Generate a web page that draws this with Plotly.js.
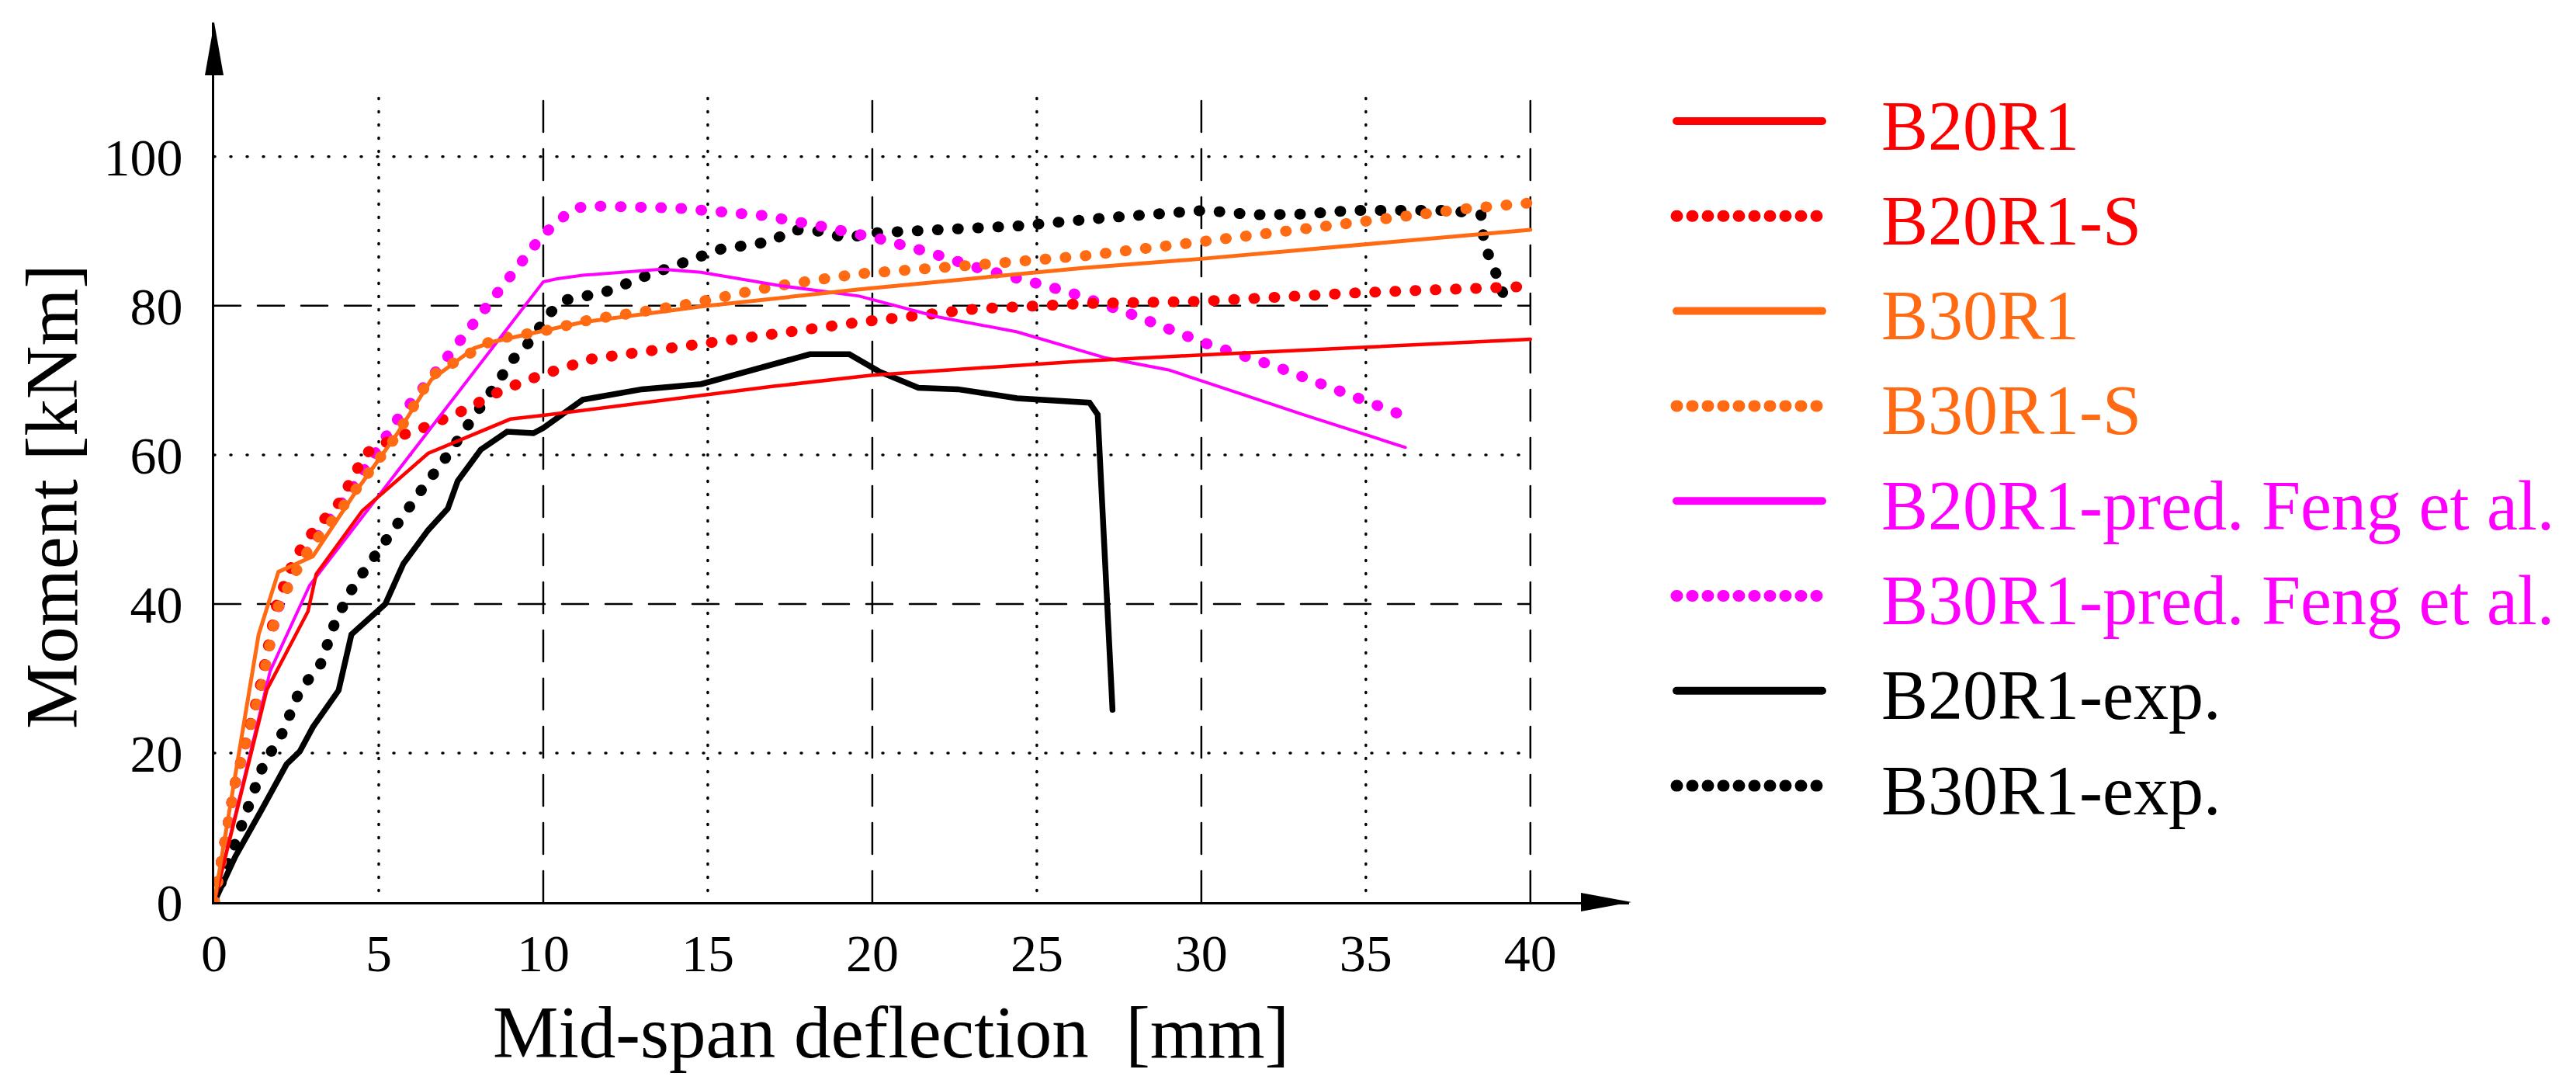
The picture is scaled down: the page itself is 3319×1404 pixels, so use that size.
<!DOCTYPE html>
<html>
<head>
<meta charset="utf-8">
<script src="https://cdn.plot.ly/plotly-3.0.1.min.js"></script>
<style>
  body { margin: 0; background: #fff; }
  #myDiv { width: 3319px; height: 1404px; }
  .js-line, .shapelayer path { stroke-linecap: round !important; }
</style>
</head>
<body>
<div id="myDiv"></div>
<script>
// values: deflection [mm] / moment [kNm]
var b20r1X = [0, 1.6, 2.85, 3.1, 4.5, 6.5, 9, 10, 17, 20, 26.45, 30, 40];
var b20r1Y = [0, 28.5, 39, 44, 52.5, 60.2, 64.8, 65.3, 69.2, 70.7, 72.6, 73.4, 75.5];

var b20r1sX = [0, 0.64, 1.4, 1.9, 2.45, 3, 3.8, 4.6, 5.5, 6.4, 7.6, 8.8, 10, 11.5, 13, 14.5, 17, 19.6, 23.2, 26.5, 30, 35, 40];
var b20r1sY = [0, 16, 29, 40, 46.2, 49.7, 53.6, 60.2, 62.3, 63.7, 66, 68.8, 70.8, 72.9, 73.8, 74.8, 76.2, 77.8, 79.6, 80.3, 80.6, 81.8, 82.6];

var b30r1X = [0, 1.35, 1.95, 3.0, 4.34, 5.54, 6.6, 7.9, 8.5, 10, 11.2, 14.8, 19.6, 26.45, 30, 40];
var b30r1Y = [0, 35.9, 44.3, 46.4, 55.3, 62.7, 70.1, 74.3, 75.2, 76.6, 77.8, 79.9, 82.2, 85.1, 86.3, 90.2];

var b30r1sX = [0, 0.64, 1.43, 1.9, 2.45, 3, 3.3, 4.34, 5.5, 6.6, 7.6, 8.5, 10, 11.5, 13, 14.5, 17, 19.6, 23.2, 26.45, 30, 35, 38, 40];
var b30r1sY = [0, 16, 28.8, 39.2, 44.1, 48.3, 49.5, 55.3, 62.3, 70.6, 73.4, 75.5, 76.6, 78.2, 79.2, 80.3, 82.6, 84.3, 85.5, 86.7, 88.6, 91.4, 93, 93.8];

var b20predX = [0, 1.7, 2.9, 10, 10.4, 11.2, 13.6, 14.8, 17.2, 19.6, 22, 24.4, 27.1, 29, 30.1, 33.1, 36.2];
var b20predY = [0, 31, 42.5, 83.2, 83.6, 84.1, 84.9, 84.5, 82.7, 81.3, 78.5, 76.5, 73, 71.4, 69.8, 65.4, 61];

var b30predX = [0, 0.64, 1.43, 1.9, 2.45, 3.3, 4.04, 5.54, 6.44, 7.1, 7.6, 8.3, 8.8, 9.3, 9.7, 10, 10.5, 10.8, 11.3, 12.5, 14.1, 15.4, 16.7, 18.4, 20.2, 21.7, 23.2, 25, 26, 27.8, 30.1, 32.3, 34.6, 36.3];
var b30predY = [0, 16, 29, 39, 44.5, 50.2, 54.5, 64.6, 69.5, 73.2, 76, 79.9, 82.6, 85.6, 87.7, 89.6, 91.4, 92.8, 93.4, 93.4, 93.1, 92.6, 92.1, 90.7, 89, 87.2, 85.1, 83, 81.8, 79, 75, 71.8, 67.8, 65];

var b20expX = [0, 0.64, 1.43, 2.2, 2.6, 3, 3.78, 3.94, 4.17, 4.57, 5.2, 5.75, 6.5, 7.1, 7.4, 8.1, 8.9, 9.7, 10, 11.2, 13, 14.8, 16.6, 18.1, 19.3, 20.2, 21.4, 22.6, 24.4, 26.6, 26.85, 27.3];
var b20expY = [0, 6.1, 12.3, 18.5, 20.2, 23.5, 28.4, 31.3, 35.9, 37.5, 40, 45.4, 49.9, 52.8, 56.5, 60.7, 63.1, 62.9, 63.6, 67.4, 68.8, 69.5, 71.6, 73.5, 73.5, 71.2, 69, 68.8, 67.6, 67, 65.4, 25.8];

var b30expX = [0, 0.33, 1.04, 1.5, 2.06, 2.6, 3.23, 3.7, 4.25, 4.96, 5.6, 6.3, 7, 7.6, 8.1, 8.5, 9.1, 9.7, 10.1, 10.7, 11.85, 13, 14.2, 15.4, 16.9, 17.6, 18.4, 19.2, 20.1, 22, 24.4, 27.1, 30.1, 31.6, 33.1, 34.6, 37.6, 38.5, 38.6, 38.9, 39.1, 39.3];
var b30expY = [0, 4, 12.3, 18.5, 22.6, 28.4, 31.9, 37.9, 42.5, 47, 51.2, 55.3, 59.4, 63.1, 66.2, 69.2, 72.9, 75.7, 78.7, 80.8, 81.8, 83.8, 85.8, 87.6, 88.6, 90.2, 90, 89.1, 89.8, 90.2, 90.7, 91.8, 92.8, 92.2, 92.3, 92.8, 92.8, 92.2, 88.2, 85, 82.6, 80];

var xTicks = [0, 5, 10, 15, 20, 25, 30, 35, 40];
var yTicks = [0, 20, 40, 60, 80, 100];
var gridX = [5, 10, 15, 20, 25, 30, 35, 40];
var gridY = [20, 40, 60, 80, 100];

var names = ["B20R1", "B20R1-S", "B30R1", "B30R1-S", "B20R1-pred. Feng et al.", "B30R1-pred. Feng et al.", "B20R1-exp.", "B30R1-exp."];
var colors = ["#ff0000", "#ff0000", "#ff6a13", "#ff6a13", "#ff00ff", "#ff00ff", "#000000", "#000000"];
var dotted = [false, true, false, true, false, true, false, true];

var FONT = "Liberation Serif, Times New Roman, serif";
var W = 3319, H = 1404, L = 276, R = 1220, T = 29, B = 242;
function px(x) { return (x - L) / (W - L - R); }
function py(y) { return (H - B - y) / (H - T - B); }

var DOT = "1px,25px";

function curve(x, y, i, w) {
  return {
    x: x, y: y, type: "scatter", mode: "lines", name: names[i],
    showlegend: false, hoverinfo: "skip",
    line: { color: colors[i], width: w, dash: dotted[i] ? DOT : "solid" }
  };
}

var data = [
  curve(b30expX, b30expY, 7, 14),
  curve(b20expX, b20expY, 6, 7.5),
  curve(b30predX, b30predY, 5, 14),
  curve(b20r1sX, b20r1sY, 1, 14),
  curve(b30r1sX, b30r1sY, 3, 14),
  curve(b20predX, b20predY, 4, 4),
  curve(b20r1X, b20r1Y, 0, 4.5),
  curve(b30r1X, b30r1Y, 2, 5)
];

var shapes = [];
gridX.forEach(function(v) {
  var major = v % 10 === 0;
  shapes.push({
    type: "line", xref: "x", yref: "y", x0: v, x1: v, y0: major ? 0 : 1.5, y1: 108, layer: "below",
    line: { color: "#000", width: major ? 2.5 : 3.5, dash: major ? "40px,22px" : "1px,16px" }
  });
});
gridY.forEach(function(v) {
  var major = v % 40 === 0;
  shapes.push({
    type: "line", xref: "x", yref: "y", x0: 0, x1: 40, y0: v, y1: v, layer: "below",
    line: { color: "#000", width: major ? 2.5 : 3.5, dash: major ? "34px,22px" : "1px,20px" }
  });
});

// arrow heads at the ends of both axes
shapes.push({
  type: "path", xref: "paper", yref: "paper", fillcolor: "#000", line: { width: 0 },
  path: "M" + px(276) + "," + py(29) + " L" + px(264) + "," + py(97) + " L" + px(288) + "," + py(97) + " Z"
});
shapes.push({
  type: "path", xref: "paper", yref: "paper", fillcolor: "#000", line: { width: 0 },
  path: "M" + px(2102) + "," + py(1162) + " L" + px(2037) + "," + py(1150) + " L" + px(2037) + "," + py(1174) + " Z"
});

var annotations = [];
var rowY0 = 156, rowStep = 122.3;
names.forEach(function(n, i) {
  var yy = rowY0 + i * rowStep;
  shapes.push({
    type: "line", xref: "paper", yref: "paper",
    x0: px(2160), x1: px(2348), y0: py(yy), y1: py(yy),
    line: { color: colors[i], width: dotted[i] ? 15 : 10, dash: dotted[i] ? "1px,19px" : "solid" }
  });
  annotations.push({
    xref: "paper", yref: "paper", x: px(2422), y: py(yy + 6), xanchor: "left", yanchor: "middle",
    text: n, showarrow: false, font: { family: FONT, size: 90, color: colors[i] }
  });
});

annotations.push({
  xref: "x", yref: "paper", x: 20.57, y: py(1330), xanchor: "center", yanchor: "middle",
  text: "Mid-span deflection\u00a0 [mm]", showarrow: false, font: { family: FONT, size: 95, color: "#000" }
});
annotations.push({
  xref: "paper", yref: "paper", x: px(67), y: py(640), xanchor: "center", yanchor: "middle", textangle: -90,
  text: "Moment [kNm]", showarrow: false, font: { family: FONT, size: 95, color: "#000" }
});

var layout = {
  width: W, height: H,
  margin: { l: L, r: R, t: T, b: B },
  paper_bgcolor: "#fff", plot_bgcolor: "#fff",
  font: { family: FONT, color: "#000" },
  showlegend: false,
  xaxis: {
    range: [0, 43], tickvals: xTicks, ticktext: xTicks.map(String),
    showgrid: false, zeroline: false, showline: true, linecolor: "#000", linewidth: 3,
    ticks: "", ticklabelstandoff: 4, tickfont: { family: FONT, size: 68, color: "#000" }, fixedrange: true
  },
  yaxis: {
    range: [0, 118], tickvals: yTicks, ticktext: yTicks.map(String),
    showgrid: false, zeroline: false, showline: true, linecolor: "#000", linewidth: 3,
    ticks: "", ticklabelstandoff: 24, tickfont: { family: FONT, size: 68, color: "#000" }, fixedrange: true
  },
  shapes: shapes,
  annotations: annotations
};

Plotly.newPlot("myDiv", data, layout, { staticPlot: true, displayModeBar: false });
</script>
</body>
</html>
